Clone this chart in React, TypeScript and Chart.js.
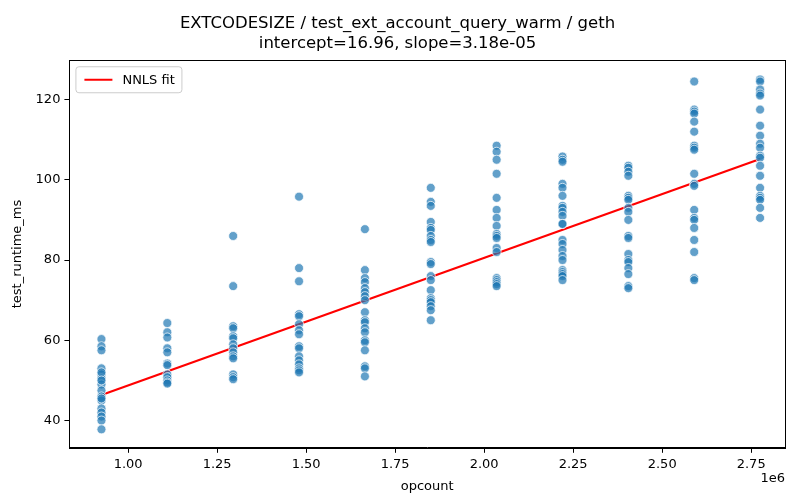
import React, { useEffect, useRef } from "react";
import { Chart, registerables } from "chart.js";
Chart.register(...registerables);

const opcounts = [925000, 1110000, 1295000, 1480000, 1665000, 1850000, 2035000, 2220000, 2405000, 2590000, 2775000];
const runtimes: number[][] = [
  [60.3, 58.5, 57.5, 53, 51.5, 50.5, 49, 47.5, 46, 45, 43, 42, 41, 40, 37.8, 52, 50, 45.5],
  [64.3, 62, 60.7, 58, 57, 54.2, 53.8, 51.5, 50.8, 50, 49.5, 49.2],
  [86, 73.5, 63.5, 63, 61, 60.5, 59, 58, 57, 56, 55.5, 51.5, 50.8, 50.3],
  [95.8, 78, 74.7, 66.5, 66, 64, 62.5, 61.5, 58.5, 58, 56, 55, 54, 53, 52.5, 52],
  [87.7, 77.5, 75.5, 74.5, 73, 72, 71, 70, 67, 65, 64.5, 63, 62, 60, 59.5, 57.5, 53.5, 53, 51],
  [98, 94.5, 93.5, 89.5, 88, 87.5, 86, 85, 84.5, 79.5, 79, 76, 75, 72.5, 70.5, 70, 69.5, 68.5, 67.5, 65],
  [108.5, 107, 105, 101.5, 95.5, 92.5, 90.5, 88.5, 86.5, 86, 85.5, 83, 82, 75.5, 75, 74.5, 74, 73.5],
  [105.8, 105, 104.5, 99, 98, 96, 93.5, 93, 92, 91, 89, 89, 85, 84, 82.5, 81, 80, 77.5, 77, 76.5, 76, 75],
  [103.5, 103, 102, 101, 96, 95.5, 95, 93, 92, 90, 86, 85.5, 81.5, 80, 79.5, 78, 76.5, 73.5, 73],
  [124.5, 117.5, 117, 116.5, 114.5, 112, 108.5, 108, 107.5, 101.5, 99, 98.5, 92.5, 90.5, 90, 88, 85, 82, 75.5, 75],
  [125, 124.5, 122.5, 121.5, 121, 117.5, 113.5, 111, 109, 108, 106, 105.5, 103.5, 101, 98, 96, 95.5, 95, 93, 90.5],
];
const intercept = 16.96;
const slope = 3.18e-5;
const titleLines = ["EXTCODESIZE / test_ext_account_query_warm / geth", "intercept=16.96, slope=3.18e-05"];

const FONT = "'DejaVu Sans', sans-serif";

export default function App() {
  const ref = useRef<HTMLCanvasElement>(null);
  useEffect(() => {
    const pts = opcounts.flatMap((x, i) => runtimes[i].map((y) => ({ x, y })));
    const x0 = opcounts[0], x1 = opcounts[opcounts.length - 1];
    const fit = [{ x: x0, y: intercept + slope * x0 }, { x: x1, y: intercept + slope * x1 }];
    const extras = {
      id: "extras",
      afterDraw(c: any) {
        const ctx = c.ctx, a = c.chartArea;
        ctx.save();
        ctx.strokeStyle = "#000";
        ctx.lineWidth = 1;
        ctx.strokeRect(Math.round(a.left) + 0.5, Math.round(a.top) + 0.5, Math.round(a.right - a.left), Math.round(a.bottom - a.top));
        ctx.fillStyle = "#000";
        ctx.font = `13px ${FONT}`;
        ctx.textAlign = "right";
        ctx.fillText("1e6", a.right, 482);
        // legend
        const lx = a.left + 6, ly = a.top + 6;
        ctx.fillStyle = "rgba(255,255,255,0.8)";
        ctx.strokeStyle = "#ccc";
        ctx.lineWidth = 1;
        ctx.beginPath();
        (ctx as any).roundRect(lx + 0.5, ly + 0.5, 106, 26, 3);
        ctx.fill(); ctx.stroke();
        ctx.strokeStyle = "red"; ctx.lineWidth = 2;
        ctx.beginPath(); ctx.moveTo(lx + 9, ly + 13.5); ctx.lineTo(lx + 37, ly + 13.5); ctx.stroke();
        ctx.fillStyle = "#000"; ctx.textAlign = "left"; ctx.textBaseline = "middle";
        ctx.fillText("NNLS fit", lx + 47, ly + 14);
        ctx.restore();
      },
    };
    const ch = new Chart(ref.current!, {
      type: "scatter",
      data: {
        datasets: [
          {
            label: "data",
            data: pts,
            backgroundColor: "rgba(31,119,180,0.7)",
            borderColor: "rgba(255,255,255,0.9)",
            borderWidth: 0.8,
            pointRadius: 4.5,
          },
          {
            label: "NNLS fit",
            type: "line",
            data: fit,
            borderColor: "red",
            borderWidth: 2.2,
            pointRadius: 0,
            showLine: true,
          } as any,
        ],
      },
      plugins: [extras],
      options: {
        animation: false,
        responsive: false,
        layout: { padding: { left: 10, right: 15, top: 10, bottom: 0 } },
        plugins: {
          legend: { display: false },
          tooltip: { enabled: false },
          title: {
            display: true,
            text: titleLines,
            color: "#000",
            font: { family: FONT, size: 16.5, weight: "normal", lineHeight: 1.25 },
            padding: { top: 3, bottom: 6 },
          },
        },
        scales: {
          x: {
            type: "linear",
            min: 835000,
            max: 2845000,
            border: { color: "#000", width: 1 },
            grid: { display: true, drawOnChartArea: false, color: "#000", tickLength: 5 },
            afterBuildTicks: (s: any) => {
              s.ticks = [1, 1.25, 1.5, 1.75, 2, 2.25, 2.5, 2.75].map((v) => ({ value: v * 1e6 }));
            },
            ticks: {
              color: "#000",
              font: { family: FONT, size: 13 },
              callback: (v: any) => (Number(v) / 1e6).toFixed(2),
              padding: 4,
              maxRotation: 0,
            },
            title: { display: true, text: "opcount", color: "#000", font: { family: FONT, size: 13 }, padding: { top: 2, bottom: 6 } },
          },
          y: {
            min: 33.2,
            max: 129.8,
            border: { color: "#000", width: 1 },
            grid: { display: true, drawOnChartArea: false, color: "#000", tickLength: 5 },
            afterBuildTicks: (s: any) => {
              s.ticks = [40, 60, 80, 100, 120].map((v) => ({ value: v }));
            },
            ticks: { color: "#000", font: { family: FONT, size: 13 }, padding: 4 },
            title: { display: true, text: "test_runtime_ms", color: "#000", font: { family: FONT, size: 13 }, padding: { top: 0, bottom: 6 } },
          },
        },
      },
    });
    return () => ch.destroy();
  }, []);
  return (
    <div style={{ position: "fixed", left: 0, top: 0, width: 800, height: 500, background: "#fff" }}>
      <canvas ref={ref} width={800} height={500} style={{ width: 800, height: 500 }} />
    </div>
  );
}
